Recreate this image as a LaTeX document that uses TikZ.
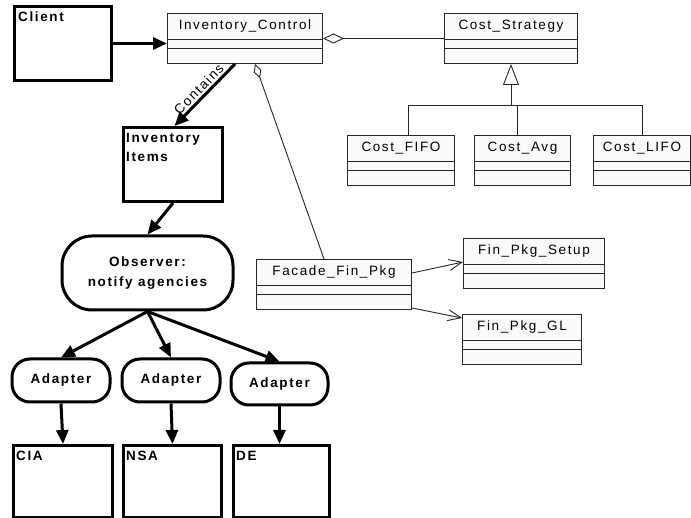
\documentclass[tikz,border=0pt]{standalone}
\usepackage{fontspec}
\setmainfont{Liberation Sans}[LetterSpace=12]
\usetikzlibrary{arrows.meta,calc}

% UML class box: id, left, top, width, class name
\newcommand\umlclass[5]{%
  \node[clsbox, minimum width=#4pt] (#1) at (#2,#3) {};
  \node[clsname] (#1-name) at ($(#1.north)+(0,13.5)$) {#5};
  \draw[clsline] ($(#1.north west)+(0,27)$) -- ($(#1.north east)+(0,27)$)
                 ($(#1.north west)+(0,36)$) -- ($(#1.north east)+(0,36)$);
}

\begin{document}
\begin{tikzpicture}[x=1pt,y=-1pt,
  every node/.style={font=\fontsize{13.5}{19}\selectfont},
  heavybox/.style={draw, line width=3pt, fill=white, inner sep=0pt, anchor=north west},
  boldlabel/.style={font=\fontsize{13.5}{19}\selectfont\bfseries, anchor=north west, inner sep=0pt, align=left},
  clsbox/.style={draw=black!85, line width=1pt, fill=black!2, inner sep=0pt, anchor=north west, minimum height=50pt},
  clsline/.style={draw=black!85, line width=1pt},
  clsname/.style={inner sep=0pt},
  stadium/.style={draw, line width=3pt, fill=white, rounded corners=#1, font=\fontsize{13.5}{20}\selectfont\bfseries, align=center, inner sep=0pt},
  flow/.style={line width=3pt, -{Triangle[length=14pt,width=12pt]}},
  assoc/.style={draw=black!85, line width=0.9pt},
  depend/.style={assoc, -{Straight Barb[length=13pt,width=11pt]}},
]
\useasboundingbox (0,0) rectangle (691,518);

% heavy boxes
\node[heavybox, minimum width=97pt, minimum height=74pt] (client) at (13,5) {};
\node[boldlabel] (client-l) at ($(client.north west)+(5,7)$) {Client};
\node[heavybox, minimum width=99pt, minimum height=74pt] (items) at (122,126) {};
\node[boldlabel] (items-l) at ($(items.north west)+(4,7)$) {Inventory\\Items};
\node[heavybox, minimum width=99pt, minimum height=72pt] (cia) at (12,444) {};
\node[boldlabel] (cia-l) at ($(cia.north west)+(4,7)$) {CIA};
\node[heavybox, minimum width=98pt, minimum height=72pt] (nsa) at (122,444) {};
\node[boldlabel] (nsa-l) at ($(nsa.north west)+(4,7)$) {NSA};
\node[heavybox, minimum width=96pt, minimum height=72pt] (de) at (232,444) {};
\node[boldlabel] (de-l) at ($(de.north west)+(4,7)$) {DE};

% rounded process nodes
\node[stadium=30pt, minimum width=171pt, minimum height=74pt] (observer) at (147.5,273) {Observer:\\notify agencies};
\node[stadium=18pt, minimum width=98pt, minimum height=43pt] (ad1) at (61,380.5) {Adapter};
\node[stadium=18pt, minimum width=98pt, minimum height=43pt] (ad2) at (171,380.5) {Adapter};
\node[stadium=18pt, minimum width=97pt, minimum height=42pt] (ad3) at (279.5,384) {Adapter};

% UML classes
\umlclass{ictrl}{167}{13}{155}{Inventory\_Control}
\umlclass{cstrat}{444}{13}{133}{Cost\_Strategy}
\umlclass{cfifo}{347}{135}{107}{Cost\_FIFO}
\umlclass{cavg}{474}{135}{96}{Cost\_Avg}
\umlclass{clifo}{593}{135}{97}{Cost\_LIFO}
\umlclass{facade}{256}{259}{155}{Facade\_Fin\_Pkg}
\umlclass{setup}{463}{238}{141}{Fin\_Pkg\_Setup}
\umlclass{gl}{462}{314}{119}{Fin\_Pkg\_GL}

% flow arrows
\draw[flow] (client.east) -- (client.east -| ictrl.west);
\draw[line width=3pt, {Triangle[length=14pt,width=12pt]}-] ($(items.north)+(1.5,0)$)
  -- node[sloped, above, inner sep=2pt] (contains) {Contains} ($(ictrl.south)+(-10,0)$);
\draw[flow] (items.south) -- (observer.north);
\draw[flow] (observer.south) -- (ad1.north);
\draw[flow] (observer.south) -- (ad2.north);
\draw[flow] (observer.south) -- (ad3.north);
\draw[flow] (ad1.south) -- (cia.north);
\draw[flow] (ad2.south) -- (nsa.north);
\draw[flow] (ad3.south) -- (ad3.south |- de.north);

% aggregations
\draw[assoc, {Diamond[open,length=21pt,width=10pt]}-] (ictrl.east) -- (cstrat.west);
\draw[assoc, {Diamond[open,length=15pt,width=8pt]}-] ($(ictrl.south)+(10,0)$) -- ($(facade.north)+(-10,0)$);

% generalization
\coordinate (bus) at (510.5,105);
\draw[assoc] ($(cfifo.north)+(7,0)$) -- ($(cfifo.north |- bus)+(7,0)$) -- (clifo.north |- bus) -- (clifo.north);
\draw[assoc] ($(cavg.north)+(-5,0)$) -- ($(cavg.north |- bus)+(-5,0)$);
\draw[assoc, -{Triangle[open,length=21pt,width=16pt]}] (cstrat.south |- bus) -- (cstrat.south);

% dependencies
\draw[depend] ($(facade.north east)+(0,14)$) -- ($(setup.north west)+(0,24)$);
\draw[depend] ($(facade.south east)+(0,-2)$) -- ($(gl.north west)+(0,4)$);
\end{tikzpicture}
\end{document}
